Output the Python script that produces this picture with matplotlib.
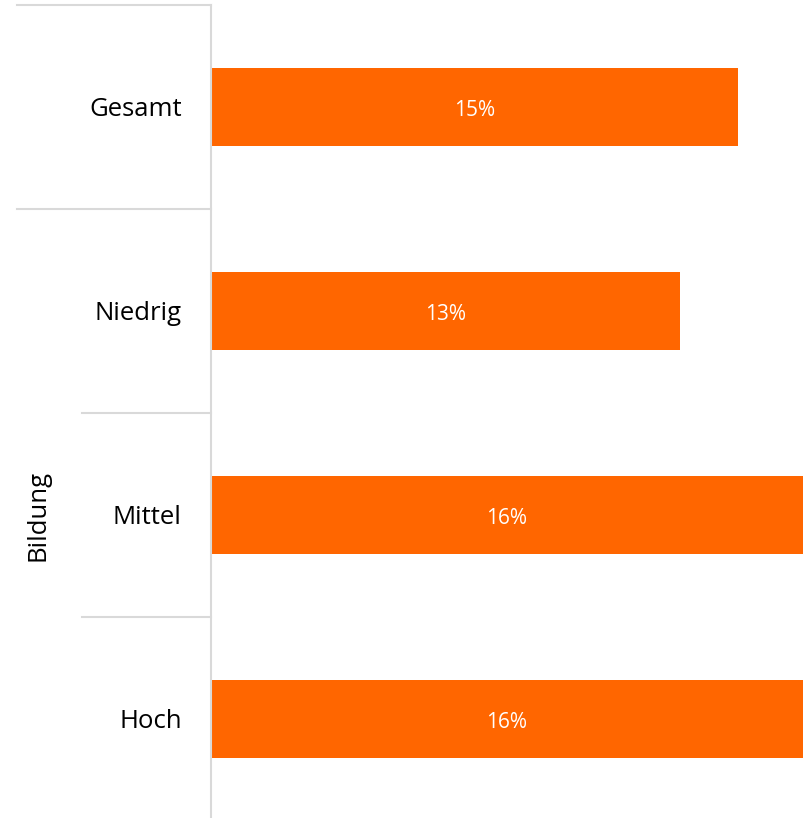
import matplotlib.pyplot as plt
import matplotlib.transforms as mtransforms

categories = ["Gesamt", "Niedrig", "Mittel", "Hoch"]
values = [14.6, 13.0, 16.4, 16.4]
value_labels = ["15%", "13%", "16%", "16%"]
group_label = "Bildung"

orange = "#FF6600"
grey = "#D9D9D9"
plt.rcParams["font.family"] = ["Open Sans", "DejaVu Sans"]

W, H = 808, 818
fig = plt.figure(figsize=(W / 100, H / 100), dpi=100)
# axes from x=211 to 803 px, y=5 to 821 px (bottom slightly off the canvas)
ax = fig.add_axes([211 / W, -3 / H, 592 / W, 816 / H])

y = list(range(len(categories)))
bars = ax.barh(y, values, height=0.385, color=orange)
for b, lab in zip(bars, value_labels):
    ax.text(b.get_width() / 2, b.get_y() + b.get_height() / 2 + 0.015, lab,
            ha="center", va="center", color="white", fontsize=15)

ax.set_xlim(0, 16.4)
ax.set_ylim(len(categories) - 0.5, -0.5)
ax.set_yticks(y)
ax.set_yticklabels(categories, fontsize=18.5)
ax.tick_params(axis="y", length=0, pad=21)
ax.set_xticks([])
for s in ["top", "right", "bottom"]:
    ax.spines[s].set_visible(False)
ax.spines["left"].set_color(grey)
ax.spines["left"].set_linewidth(1.5)

# group separators left of the axis
trans = mtransforms.blended_transform_factory(ax.transAxes, ax.transData)
x_outer = (17 - 211) / 592
x_inner = (82 - 211) / 592
for yb, xs in [(-0.5, x_outer), (0.5, x_outer), (1.5, x_inner), (2.5, x_inner)]:
    ax.plot([xs, 0], [yb, yb], transform=trans, color=grey, lw=1.5,
            clip_on=False)

ax.text((38 - 211) / 592, 2.0, group_label, transform=trans, rotation=90,
        ha="center", va="center", fontsize=18.5)

fig.savefig("out.png", dpi=100)
